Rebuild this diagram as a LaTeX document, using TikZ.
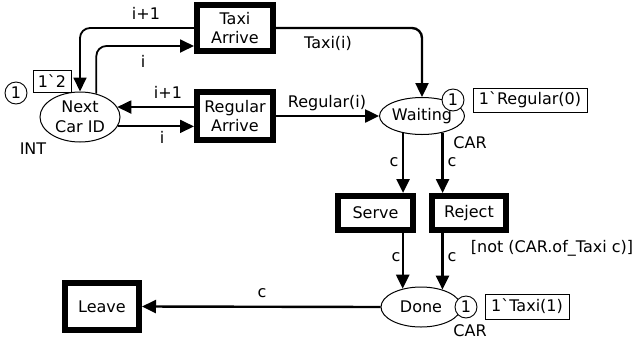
\documentclass[tikz,border=0pt]{standalone}
\usepackage{fontspec}
\newfontfamily\dvsans{DejaVu Sans}
\usetikzlibrary{arrows.meta,shapes.geometric}
\begin{document}
\begin{tikzpicture}[x=1pt,y=-1pt,
  font=\dvsans\fontsize{16}{19.5}\selectfont,
  trans/.style={draw,line width=6pt,inner sep=0pt,align=center},
  place/.style={draw,ellipse,line width=1pt,inner sep=0pt,align=center,fill=white},
  token/.style={draw,circle,line width=0.9pt,minimum size=22pt,inner sep=0pt,fill=white},
  marking/.style={draw,line width=0.9pt,inner sep=0pt,fill=white},
  lbl/.style={inner sep=0pt},
  arcS/.style={line width=1.8pt,rounded corners=10pt,-{Triangle[length=14pt,width=13pt]}},
  arcT/.style={line width=2.4pt,rounded corners=10pt,-{Triangle[length=14pt,width=13pt]}}]
\useasboundingbox (0,0) rectangle (640,341);

% transitions
\node[trans,minimum width=76pt,minimum height=46pt] (TA) at (235,28) {Taxi\\Arrive};
\node[trans,minimum width=76pt,minimum height=48pt] (RA) at (235,116) {Regular\\Arrive};
\node[trans,minimum width=75pt,minimum height=34pt] (SV) at (375.5,213) {Serve};
\node[trans,minimum width=74pt,minimum height=34pt] (RJ) at (469,213) {Reject};
\node[trans,minimum width=74pt,minimum height=47pt] (LV) at (102,306.5) {Leave};

% places
\node[place,minimum width=80pt,minimum height=50pt] (NC) at (80,117) {Next\\Car ID};
\node[place,minimum width=80pt,minimum height=37pt] (W) at (422,116) {Waiting};
\node[place,minimum width=80pt,minimum height=40pt] (D) at (421,307) {Done};

% markings
\node[token] (tNC) at (16,93) {1};
\node[marking,minimum width=38pt,minimum height=22pt] (mNC) at (52,81) {1\char96 2};
\node[marking,minimum width=114pt,minimum height=24pt] (mW) at (530,100) {1\char96 Regular(0)};
\node[marking,minimum width=84pt,minimum height=25pt] (mD) at (527,306.5) {1\char96 Taxi(1)};

% colour sets and guard
\node[lbl] (cNC) at (33,149) {INT};
\node[lbl] (cW) at (470,143) {CAR};
\node[lbl] (cD) at (470,330.5) {CAR};
\node[lbl] (gRJ) at (552,248) {[not (CAR.of\_Taxi c)]};

% arcs
\draw[arcS] (TA.west) -| (NC.north);
\draw[arcS] (NC.55) |- ([yshift=-18pt]TA.west);
\draw[arcS] (NC.15 -| RA.west) -- (NC.15);
\draw[arcS] (NC.-14) -- (NC.-14 -| RA.west);
\draw[arcT] (TA.east) -| (W.north);
\draw[arcT] (RA.east) -- (W.west);
\draw[arcT] (W.222) -- (W.222 |- SV.north);
\draw[arcT] (W.-39) -- (W.-39 |- RJ.north);
\draw[arcT] (D.135 |- SV.south) -- (D.135);
\draw[arcT] (D.39 |- RJ.south) -- (D.39);
\draw[arcT] (D.west) -- (LV.east);

% tokens on top of places
\node[token] (tW) at (453,100) {1};
\node[token] (tD) at (466,307) {1};

% arc inscriptions
\node[lbl] (a1) at (146,13) {i+1};
\node[lbl] (a2) at (143,61) {i};
\node[lbl] (a3) at (168,92) {i+1};
\node[lbl] (a4) at (162,137) {i};
\node[lbl] (a5) at (328,43) {Taxi(i)};
\node[lbl] (a6) at (327,103) {Regular(i)};
\node[lbl] (a7) at (394,162) {c};
\node[lbl] (a8) at (452,162) {c};
\node[lbl] (a9) at (396,257) {c};
\node[lbl] (a10) at (452,257) {c};
\node[lbl] (a11) at (262,293) {c};
\end{tikzpicture}
\end{document}
